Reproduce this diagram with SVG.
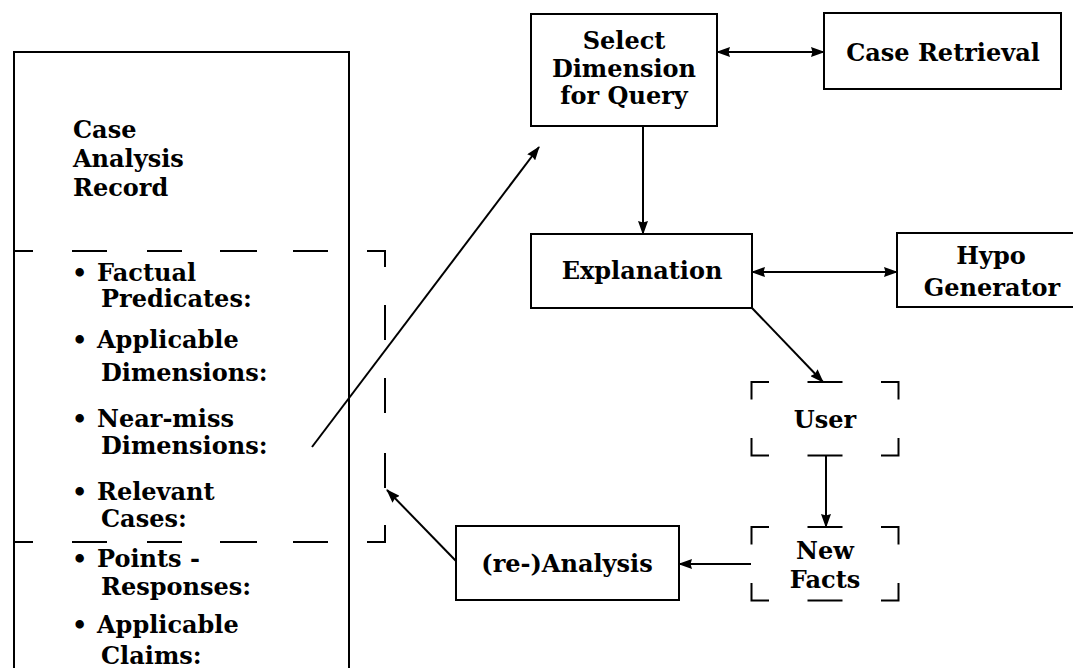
<svg xmlns="http://www.w3.org/2000/svg" width="1073" height="668" viewBox="0 0 1073 668">
<style>
.t{font-family:"DejaVu Serif","Liberation Serif",serif;font-weight:bold;font-size:24px;fill:#000}
.c{text-anchor:middle}
.box{fill:none;stroke:#000;stroke-width:2}
.dbox{fill:none;stroke:#000;stroke-width:2;stroke-dasharray:35 38.5;stroke-dashoffset:17.5}
.ln{fill:none;stroke:#000;stroke-width:2}
.a1{marker-end:url(#ah)}
.a2{marker-start:url(#ah);marker-end:url(#ah)}
</style>
<defs>
<marker id="ah" viewBox="0 0 14 10" refX="13" refY="5" markerWidth="14" markerHeight="10" markerUnits="userSpaceOnUse" orient="auto-start-reverse">
<path d="M0,0 L14,5 L0,10 L1.5,5 z" fill="#000"/>
</marker>
</defs>
<rect width="1073" height="668" fill="#fff"/>

<g id="record">
<rect class="box" x="14" y="52" width="335" height="660"/>
<path class="ln" d="M14 251 H33 M72 251 H107 M147 251 H182 M220 251 H257 M293 251 H328 M367 251 H385 V267 M385 305 V340 M385 378 V413 M385 453 V488 M385 525 V542 H367 M328 542 H293 M257 542 H220 M182 542 H147 M107 542 H72 M33 542 H14"/>
<text class="t" x="73" y="138">Case</text>
<text class="t" x="73" y="167">Analysis</text>
<text class="t" x="73" y="196">Record</text>
<text class="t" x="72" y="281">•</text><text class="t" x="97" y="281">Factual</text>
<text class="t" x="101" y="307">Predicates:</text>
<text class="t" x="72" y="348">•</text><text class="t" x="97" y="348">Applicable</text>
<text class="t" x="101" y="381">Dimensions:</text>
<text class="t" x="72" y="427">•</text><text class="t" x="97" y="427">Near-miss</text>
<text class="t" x="101" y="454">Dimensions:</text>
<text class="t" x="72" y="500">•</text><text class="t" x="97" y="500">Relevant</text>
<text class="t" x="101" y="527">Cases:</text>
<text class="t" x="72" y="567">•</text><text class="t" x="97" y="567">Points -</text>
<text class="t" x="101" y="595">Responses:</text>
<text class="t" x="72" y="633">•</text><text class="t" x="97" y="633">Applicable</text>
<text class="t" x="101" y="664">Claims:</text>
</g>

<g id="select">
<rect class="box" x="531" y="14" width="186" height="112"/>
<text class="t c" x="624" y="49">Select</text>
<text class="t c" x="624" y="77">Dimension</text>
<text class="t c" x="624" y="104">for Query</text>
</g>

<g id="retrieval">
<rect class="box" x="824" y="13" width="237" height="76"/>
<text class="t c" x="943" y="61">Case Retrieval</text>
</g>

<g id="explanation">
<rect class="box" x="531" y="234" width="221" height="74"/>
<text class="t c" x="642" y="279">Explanation</text>
</g>

<g id="hypo">
<rect class="box" x="897" y="233" width="200" height="74"/>
<text class="t c" x="991" y="264">Hypo</text>
<text class="t c" x="992" y="296">Generator</text>
</g>

<g id="user">
<rect class="dbox" x="751.5" y="382" width="147" height="73.5"/>
<text class="t c" x="825" y="428">User</text>
</g>

<g id="newfacts">
<rect class="dbox" x="751.5" y="527" width="147" height="73.5"/>
<text class="t c" x="825" y="559">New</text>
<text class="t c" x="825" y="588">Facts</text>
</g>

<g id="analysis">
<rect class="box" x="456" y="526" width="223" height="74"/>
<text class="t c" x="567" y="572">(re-)Analysis</text>
</g>

<g id="connectors">
<line class="ln a2" x1="717" y1="52" x2="824" y2="52"/>
<line class="ln a1" x1="643" y1="126" x2="643" y2="234"/>
<line class="ln a2" x1="752" y1="272" x2="897" y2="272"/>
<line class="ln a1" x1="752" y1="308" x2="823" y2="382"/>
<line class="ln a1" x1="826" y1="455" x2="826" y2="527"/>
<line class="ln a1" x1="751" y1="564" x2="679" y2="564"/>
<line class="ln a1" x1="456" y1="561" x2="387" y2="490"/>
<line class="ln a1" x1="312" y1="447" x2="539" y2="147"/>
</g>
</svg>
